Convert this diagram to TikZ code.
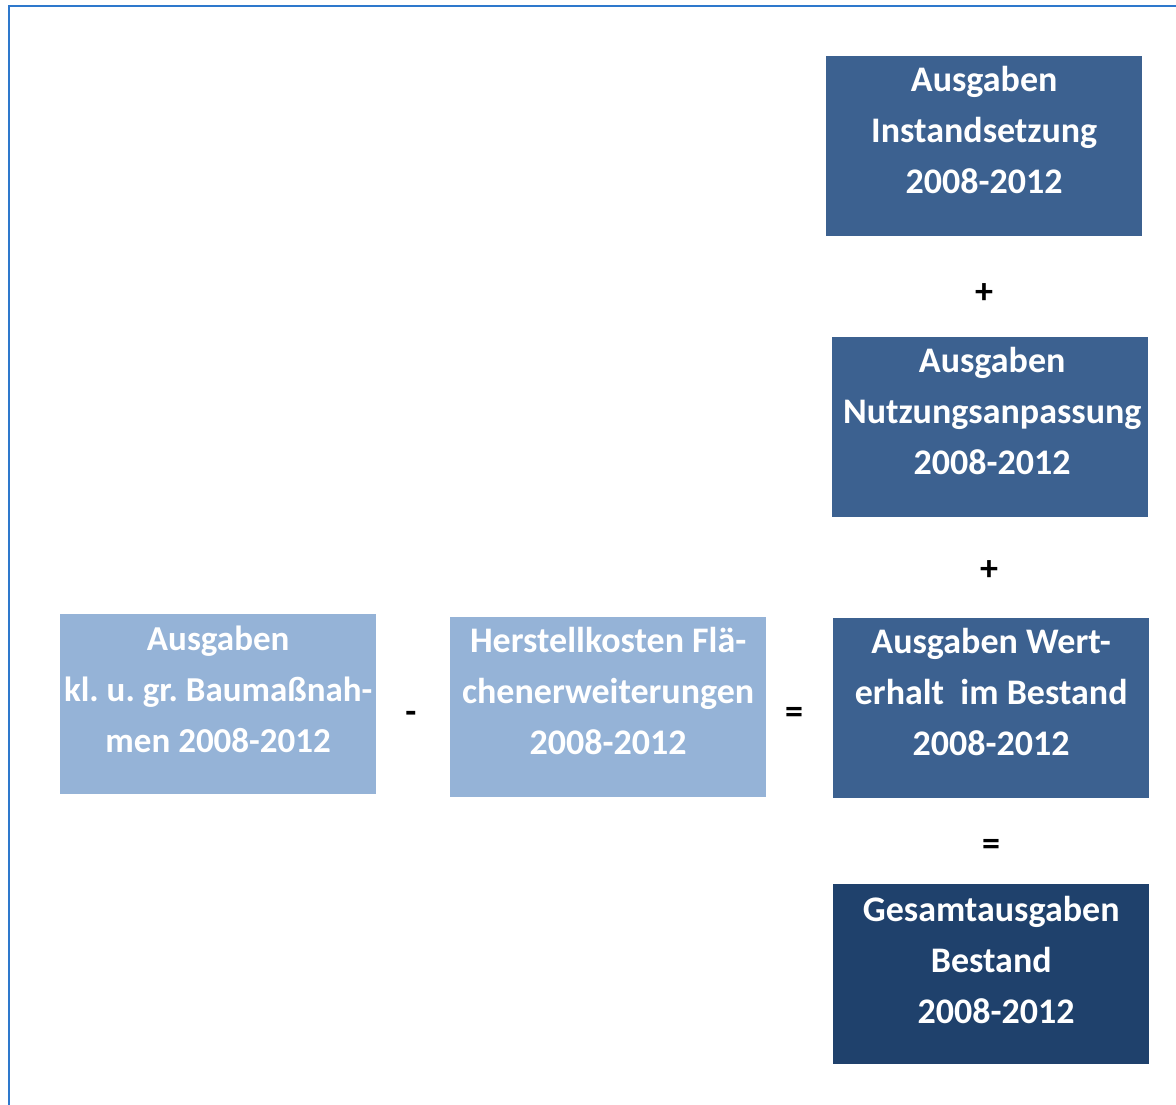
\documentclass[tikz,border=0pt]{standalone}
\usepackage{fontspec}
\setmainfont{Carlito}
\definecolor{midblue}{RGB}{60,97,144}
\definecolor{lightblue}{RGB}{149,179,215}
\definecolor{darkblue}{RGB}{31,65,108}
\definecolor{framec}{RGB}{46,120,204}
\begin{document}
\begin{tikzpicture}[x=1pt,y=-1pt,
  box/.style={rectangle, draw=none, inner sep=0, minimum width=316pt, minimum height=180pt, anchor=north west},
  midbox/.style={box, fill=midblue},
  lightbox/.style={box, fill=lightblue},
  darkbox/.style={box, fill=darkblue},
  label/.style={anchor=north, inner sep=0, align=center, text=white, font=\fontsize{36}{51}\selectfont\bfseries},
  op/.style={inner sep=0, font=\fontsize{36}{51}\selectfont\bfseries, text=black}]
\useasboundingbox (0,0) rectangle (1176,1104);
\draw[framec, line width=2.5pt] (9,1106) -- (9,6) -- (1178,6);
% right column
\node[midbox] (inst) at (826,56) {};
\node[label] (instT) at (inst.north) {\strut Ausgaben\\\strut Instandsetzung\\\strut 2008-2012};
\node[op] (plus1) at (984,294) {+};
\node[midbox] (nutz) at (832,337) {};
\node[label] (nutzT) at ([xshift=2pt]nutz.north) {\strut Ausgaben\\\strut Nutzungsanpassung\\\strut 2008-2012};
\node[op] (plus2) at (989,571) {+};
\node[midbox] (wert) at (833,618) {};
\node[label] (wertT) at (wert.north) {\strut Ausgaben Wert-\\\strut erhalt~~im Bestand\\\strut 2008-2012};
\node[op] (eq2) at (991,847) {=};
\node[darkbox] (ges) at (833,884) {};
\node[label] (gesT) at ([yshift=-2pt]ges.north) {\strut Gesamtausgaben\\\strut Bestand\\\strut \phantom{.}2008-2012};
% left row
\node[lightbox] (bau) at (60,614) {};
\node[label, font=\fontsize{35}{51}\selectfont\bfseries] (bauT) at ([yshift=-1pt]bau.north) {\strut Ausgaben\\\strut kl.~u.~gr.~Baumaßnah-\\\strut men 2008-2012};
\node[op] (minus) at (411,717) {-};
\node[lightbox] (herst) at (450,617) {};
\node[label] (herstT) at (herst.north) {\strut Herstellkosten Flä-\\\strut chenerweiterungen\\\strut 2008-2012};
\node[op] (eq1) at (794,715) {=};
\end{tikzpicture}
\end{document}
